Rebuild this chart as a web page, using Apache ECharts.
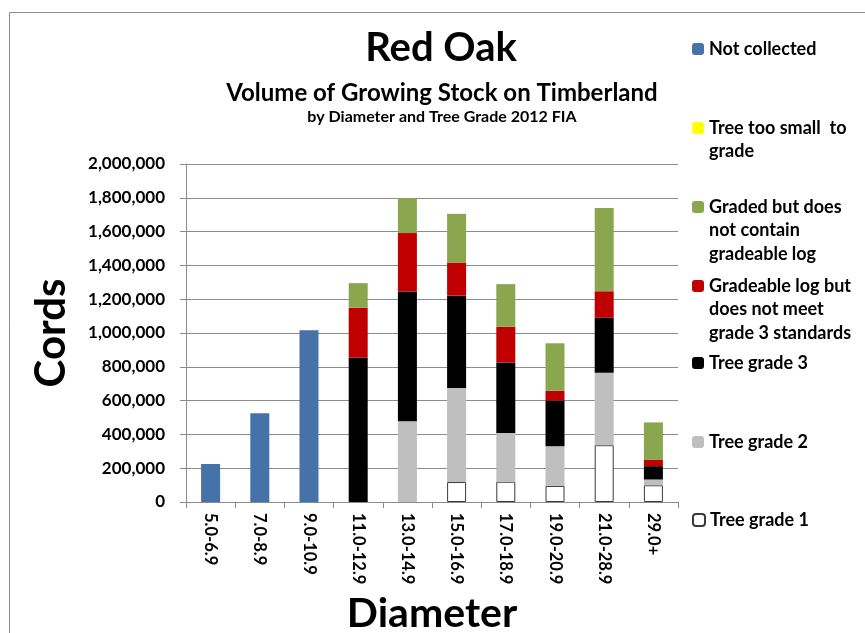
<!DOCTYPE html>
<html>
<head>
<meta charset="utf-8">
<script src="https://cdn.jsdelivr.net/npm/echarts@6/dist/echarts.min.js"></script>
<style>
html,body{margin:0;padding:0;background:#fff;}
#chart{width:865px;height:633px;}
</style>
</head>
<body>
<div id="chart"></div>
<script>
// ---- data ----
const categories = ['5.0-6.9','7.0-8.9','9.0-10.9','11.0-12.9','13.0-14.9','15.0-16.9','17.0-18.9','19.0-20.9','21.0-28.9','29.0+'];
const notCollected   = [225000, 525000, 1017000, null, null, null, null, null, null, null];
const tooSmall       = [null, null, null, null, null, null, null, null, null, null];
const gradedNoLog    = [null, null, null, 145000, 207000, 288000, 252000, 281000, 492000, 222000];
const gradeableNotG3 = [null, null, null, 295000, 346000, 196000, 211000, 57000, 156000, 37000];
const grade3         = [null, null, null, 855000, 767000, 547000, 417000, 271000, 326000, 79000];
const grade2         = [null, null, null, null, 478000, 556000, 289000, 235000, 429000, 34000];
const grade1         = [null, null, null, null, null, 118000, 120000, 95000, 336000, 99000];
const yMin = 0, yMax = 2000000, yStep = 200000;

const seriesNames = {
  nc: 'Not collected',
  ts: 'Tree too small to grade',
  gn: 'Graded but does not contain gradeable log',
  gl: 'Gradeable log but does not meet grade 3 standards',
  g3: 'Tree grade 3',
  g2: 'Tree grade 2',
  g1: 'Tree grade 1'
};
const legendLines = {
  'Not collected': ['Not collected'],
  'Tree too small to grade': ['Tree too small  to', 'grade'],
  'Graded but does not contain gradeable log': ['Graded but does', 'not contain', 'gradeable log'],
  'Gradeable log but does not meet grade 3 standards': ['Gradeable log but', 'does not meet', 'grade 3 standards'],
  'Tree grade 3': ['Tree grade 3'],
  'Tree grade 2': ['Tree grade 2'],
  'Tree grade 1': ['Tree grade 1']
};

const FONT = 'Lato';
const LH = 23.5;
// icon centre = top + (2n-1)*LH/2 ; blank lines are prepended so that the
// icon lines up with the first text line, as in the original legend
function legendItem(name, iconCenter) {
  const lines = legendLines[name];
  const n = lines.length;
  return {
    data: [name],
    left: 692,
    top: iconCenter - (2 * n - 1) * LH / 2,
    orient: 'vertical',
    padding: 0,
    itemWidth: 12,
    itemHeight: 12,
    itemGap: 0,
    selectedMode: false,
    formatter: nm => {
      const l = legendLines[nm];
      return new Array(l.length - 1).fill('').concat(l).join('\n');
    },
    textStyle: {
      fontFamily: FONT, fontWeight: 'bold', fontSize: 18, color: '#000',
      lineHeight: LH
    }
  };
}

function barSeries(name, data, color, extra) {
  return Object.assign({
    name: name,
    type: 'bar',
    stack: 'total',
    data: data,
    barWidth: 19,
    itemStyle: { color: color, borderWidth: 0 },
    emphasis: { disabled: true }
  }, extra || {});
}

const chart = echarts.init(document.getElementById('chart'), null, { renderer: 'canvas' });
chart.setOption({
  animation: false,
  backgroundColor: '#fff',
  textStyle: { fontFamily: FONT },
  title: [
    { text: 'Red Oak', left: 441, top: 24, textAlign: 'center', padding: 0,
      textStyle: { fontFamily: FONT, fontWeight: 'bold', fontSize: 40, lineHeight: 48, color: '#000' } },
    { text: 'Volume of Growing Stock on Timberland', left: 442, top: 79, textAlign: 'center', padding: 0,
      textStyle: { fontFamily: FONT, fontWeight: 'bold', fontSize: 24, lineHeight: 28, color: '#000' } },
    { text: 'by Diameter and Tree Grade 2012 FIA', left: 442, top: 108, textAlign: 'center', padding: 0,
      textStyle: { fontFamily: FONT, fontWeight: 'bold', fontSize: 16, lineHeight: 18, color: '#000' } }
  ],
  legend: [
    legendItem(seriesNames.nc, 49),
    legendItem(seriesNames.ts, 128),
    legendItem(seriesNames.gn, 207),
    legendItem(seriesNames.gl, 286),
    legendItem(seriesNames.g3, 363),
    legendItem(seriesNames.g2, 442),
    legendItem(seriesNames.g1, 520)
  ],
  grid: { left: 186, right: 187, top: 164, bottom: 131, containLabel: false, outerBoundsMode: 'none' },
  xAxis: {
    type: 'category',
    data: categories,
    name: 'Diameter',
    nameLocation: 'middle',
    nameGap: 91,
    nameTextStyle: { fontFamily: FONT, fontWeight: 'bold', fontSize: 41, color: '#000' },
    axisLine: { lineStyle: { color: '#8c8c8c', width: 1 } },
    axisTick: { show: true, length: 6, lineStyle: { color: '#8c8c8c' } },
    axisLabel: { rotate: -90, fontFamily: FONT, fontWeight: 'bold', fontSize: 16.5, color: '#000', margin: 11 }
  },
  yAxis: {
    type: 'value',
    min: yMin, max: yMax, interval: yStep,
    name: 'Cords',
    nameLocation: 'middle',
    nameRotate: 90,
    nameGap: 114,
    nameTextStyle: { fontFamily: FONT, fontWeight: 'bold', fontSize: 42, color: '#000' },
    axisLine: { show: true, lineStyle: { color: '#8c8c8c', width: 1 } },
    axisTick: { show: true, length: 6, lineStyle: { color: '#8c8c8c' } },
    splitLine: { show: true, lineStyle: { color: '#8c8c8c', width: 1 } },
    axisLabel: {
      fontFamily: FONT, fontWeight: 'bold', fontSize: 17, color: '#000', margin: 21,
      formatter: v => v.toLocaleString('en-US')
    }
  },
  graphic: [
    { type: 'rect', shape: { x: 9.5, y: 12.5, width: 900, height: 700 }, silent: true,
      style: { fill: 'none', stroke: '#8c8c8c', lineWidth: 1 }, z: -10 }
  ],
  series: [
    barSeries(seriesNames.g1, grade1, '#ffffff', { itemStyle: { color: '#ffffff', borderColor: '#3a3a3a', borderWidth: 1 } }),
    barSeries(seriesNames.g2, grade2, '#bfbfbf'),
    barSeries(seriesNames.g3, grade3, '#000000'),
    barSeries(seriesNames.gl, gradeableNotG3, '#c00000'),
    barSeries(seriesNames.gn, gradedNoLog, '#8aa64e'),
    barSeries(seriesNames.ts, tooSmall, '#ffff00'),
    barSeries(seriesNames.nc, notCollected, '#4573a9')
  ]
});
</script>
</body>
</html>
